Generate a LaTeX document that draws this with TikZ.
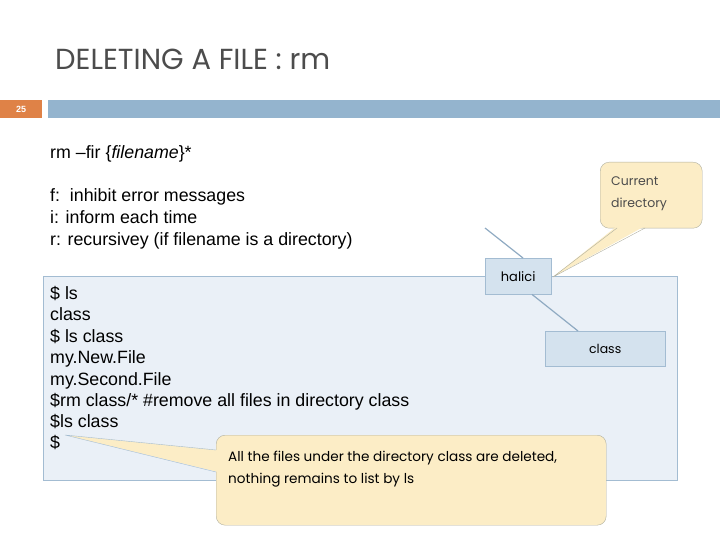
\documentclass[tikz,border=0pt]{standalone}
\usepackage{fontspec}
\setmainfont{Liberation Sans}
\newfontfamily\goth{Poppins}
\begin{document}
\begin{tikzpicture}[x=1pt,y=-1pt,
  txt/.style={anchor=base west,inner sep=0,font=\fontsize{17.8}{20}\selectfont},
  dirbox/.style={draw=blueline,fill=boxblue,inner sep=0},
  callout/.style={draw=calloutline,fill=calloutfill,rounded corners=9pt},
  link/.style={draw=linkblue,line width=1.2pt}]
\definecolor{barblue}{HTML}{94B4CE}
\definecolor{orng}{HTML}{DF8247}
\definecolor{boxbg}{HTML}{EAF0F7}
\definecolor{boxblue}{HTML}{D4E2EE}
\definecolor{blueline}{HTML}{A3BCD2}
\definecolor{linkblue}{HTML}{8FAAC2}
\definecolor{calloutfill}{HTML}{FCEDC6}
\definecolor{calloutline}{HTML}{B0B0A0}
\useasboundingbox (0,0) rectangle (720,540);
\node[anchor=base west,inner sep=0,text=black!70,font=\goth\fontsize{29}{32}\selectfont] (title) at (55,70) {DELETING A FILE : rm};
\node[fill=orng,minimum width=42pt,minimum height=18pt,inner sep=0,anchor=north west,text=white,font=\bfseries\fontsize{9}{10}\selectfont] (num) at (0,100) {25};
\node[fill=barblue,minimum width=672pt,minimum height=18pt,inner sep=0,anchor=north west] (bar) at (48,100) {};
\node[txt] (cmd) at (50,159) {rm --fir \{\textit{filename}\}*};
\node[txt] (f) at (50,202) {f:\ \ inhibit error messages};
\node[txt] (i) at (50,223) {i: inform each time};
\node[txt] (r) at (50,245) {r: recursivey (if filename is a directory)};
\node[draw=blueline,fill=boxbg,minimum width=634pt,minimum height=204pt,inner sep=0,anchor=north west] (big) at (43,276) {};
\foreach \t/\y [count=\k] in {{\$ ls}/299,{class}/320,{\$ ls class}/342,{my.New.File}/363,{my.Second.File}/385,{\$rm class/* \#remove all files in directory class}/406,{\$ls class}/427,{\$}/448}
  \node[txt] (l\k) at (50,\y) {\t};
\coordinate (up) at (485,228);
\node[dirbox,minimum width=66pt,minimum height=36pt,anchor=north west,font=\goth\fontsize{13}{15}\selectfont] (halici) at (485,258) {halici};
\node[dirbox,minimum width=120pt,minimum height=35pt,anchor=north west,font=\goth\fontsize{12.5}{15}\selectfont] (class) at (545,331) {class};
\draw[link] (up) -- (halici.north -| 523,0);
\draw[link] (halici.south -| 532,0) -- (class.north -| 578,0);
% current directory callout
\node[callout,minimum width=102pt,minimum height=66pt,anchor=north west] (cd) at (600,162) {};
\fill[calloutfill] (617,226) -- (553,277) -- (645,226) -- cycle;
\draw[calloutline] (617,228) -- (553,277) -- (645,228);
\node[anchor=north west,align=left,inner sep=0,text=black!70,font=\goth\fontsize{12.5}{22}\selectfont] (cdt) at (611,176) {Current\\directory};
% bottom callout
\node[callout,minimum width=390pt,minimum height=90pt,anchor=north west] (note) at (216,435) {};
\fill[calloutfill] (218,450) -- (65,435) -- (218,472) -- cycle;
\draw[blueline] (216,450) -- (65,435) -- (216,472);
\node[anchor=north west,align=left,inner sep=0,font=\goth\fontsize{13.6}{22}\selectfont] (nt) at (228,451) {All the files under the directory class are deleted,\\nothing remains to list by ls};
\end{tikzpicture}
\end{document}
